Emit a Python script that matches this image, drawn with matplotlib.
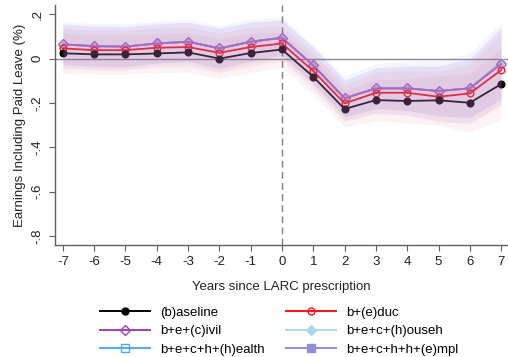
import matplotlib
matplotlib.use("Agg")
import matplotlib.pyplot as plt
from matplotlib.lines import Line2D
import numpy as np

plt.rcParams['font.family'] = ['Liberation Sans', 'DejaVu Sans']

years = list(range(-7, 8))

baseline = [0.024, 0.019, 0.019, 0.023, 0.028, 0.000, 0.025, 0.041, -0.082, -0.227, -0.187, -0.191, -0.188, -0.199, -0.115]
educ     = [0.046, 0.038, 0.038, 0.049, 0.052, 0.026, 0.052, 0.068, -0.056, -0.202, -0.154, -0.154, -0.172, -0.157, -0.052]
civil    = [0.064, 0.056, 0.054, 0.068, 0.076, 0.046, 0.076, 0.094, -0.031, -0.179, -0.134, -0.134, -0.146, -0.134, -0.025]
househ   = [0.064, 0.056, 0.054, 0.068, 0.076, 0.046, 0.076, 0.094, -0.031, -0.179, -0.134, -0.134, -0.146, -0.134, -0.015]
health   = [0.064, 0.056, 0.054, 0.068, 0.076, 0.046, 0.076, 0.094, -0.031, -0.179, -0.134, -0.134, -0.146, -0.134, -0.020]
empl     = [0.064, 0.056, 0.054, 0.068, 0.076, 0.046, 0.076, 0.094, -0.031, -0.179, -0.134, -0.134, -0.146, -0.134, -0.022]

# 95% CI half-widths per event year
ci_half  = [0.090, 0.090, 0.090, 0.088, 0.088, 0.090, 0.088, 0.080, 0.080, 0.082, 0.092, 0.100, 0.112, 0.132, 0.160]
ci_empl  = [0.102, 0.102, 0.102, 0.100, 0.100, 0.102, 0.100, 0.092, 0.094, 0.100, 0.112, 0.122, 0.135, 0.160, 0.185]

labels = ["(b)aseline", "b+(e)duc", "b+e+(c)ivil", "b+e+c+(h)ouseh",
          "b+e+c+h+(h)ealth", "b+e+c+h+h+(e)mpl"]

fig = plt.figure(figsize=(5.08, 3.57), dpi=100)
ax = fig.add_axes([0.108, 0.3137, 0.892, 0.672])

x = np.array(years)
ci = np.array(ci_half)

ax.axhline(0, color='#8a8a8a', lw=1.0, zorder=1)
ax.axvline(0, color='#808080', lw=1.0, ls=(0, (5, 3)), zorder=1)

# lines and markers (drawn beneath the translucent confidence bands)
series = [
    (empl,   '#8f8fd8', 's', '#8f8fd8', 2.5),
    (health, '#55a8f5', 's', 'none', 2.5),
    (househ, '#a8d8ea', 'D', '#a8d8ea', 4.5),
    (civil,  '#b462c8', 'D', 'none', 5.2),
    (educ,   '#ff1010', 'o', 'none', 4.8),
    (baseline, '#000000', 'o', '#000000', 4.8),
]
for vals, col, mk, fc, ms in series:
    ax.plot(x, vals, color=col, lw=1.3, marker=mk, ms=ms,
            mfc=fc, mec=col, mew=1.0, zorder=2)

# confidence bands
bands = [
    (empl, np.array(ci_empl), '#8080ff', 0.08),
    (health, ci, '#55a8f5', 0.04),
    (househ, ci, '#a8d8ea', 0.04),
    (baseline, ci, '#c06080', 0.08),
    (educ, ci, '#ff6070', 0.08),
    (civil, ci, '#a040b0', 0.09),
]
for vals, half, col, a in bands:
    v = np.array(vals)
    ax.fill_between(x, v - half, v + half, color=col, alpha=a, lw=0, zorder=3)

ax.set_xlim(-7.256, 7.22)
ax.set_ylim(-0.84, 0.241)
ax.set_xticks(years)
ax.set_xticklabels([str(t) for t in years])
yt = [0.2, 0.0, -0.2, -0.4, -0.6, -0.8]
ax.set_yticks(yt)
ax.set_yticklabels(['.2', '0', '-.2', '-.4', '-.6', '-.8'], rotation=90, va='center')

for s in ['top', 'right']:
    ax.spines[s].set_visible(False)
for s in ['left', 'bottom']:
    ax.spines[s].set_color('#606060')
    ax.spines[s].set_linewidth(1.0)
ax.tick_params(axis='both', direction='out', length=4, color='#606060',
               labelsize=9.5, labelcolor='#222222', pad=4)

ax.set_xlabel('Years since LARC prescription', fontsize=9.5, color='#222222', labelpad=9)
ax.set_ylabel('Earnings Including Paid Leave (%)', fontsize=9.5, color='#222222', labelpad=4)

handles = [
    Line2D([], [], color='#000000', marker='o', ms=5, mfc='#000000', lw=1.4),
    Line2D([], [], color='#a040b0', marker='D', ms=5, mfc='none', lw=1.4),
    Line2D([], [], color='#55a8f5', marker='s', ms=5.5, mfc='none', lw=1.4),
    Line2D([], [], color='#ff1010', marker='o', ms=5, mfc='none', lw=1.4),
    Line2D([], [], color='#a8d8ea', marker='D', ms=5, mfc='#a8d8ea', lw=1.4),
    Line2D([], [], color='#8f8fd8', marker='s', ms=5.5, mfc='#8f8fd8', lw=1.4),
]
leg_labels = [labels[0], labels[2], labels[4], labels[1], labels[3], labels[5]]
fig.legend(handles, leg_labels, ncol=2, loc='upper left', bbox_to_anchor=(0.197, 0.141),
           frameon=False, fontsize=9.5, handlelength=3.8, handletextpad=0.75,
           columnspacing=1.6, labelspacing=0.48, borderaxespad=0, borderpad=0)

fig.savefig('out.png', dpi=100)
